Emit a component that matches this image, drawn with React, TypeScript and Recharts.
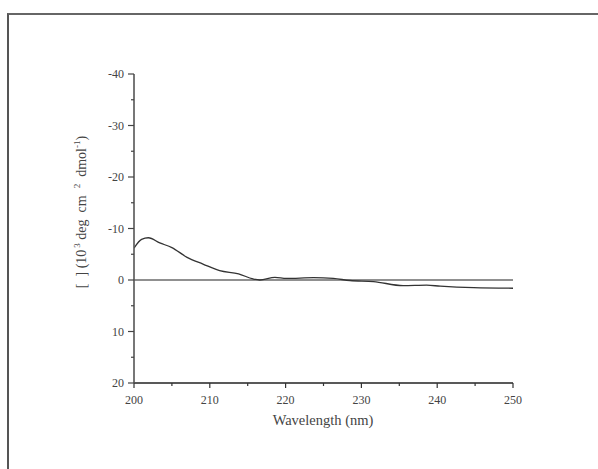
import React from 'react';
import { LineChart, Line, XAxis, YAxis, ReferenceLine, Label } from 'recharts';

const wavelengths = [200, 201, 201.9, 203.4, 205, 207, 209.1, 211.3, 213.8, 215.7, 216.6, 218.6, 220.1, 223.7, 226.3, 228.5, 231.6, 235.5, 238.6, 240.4, 244.8, 250];
const ellipticity = [-6.2, -7.9, -8.2, -7.2, -6.3, -4.4, -3.1, -1.8, -1.2, -0.2, 0, -0.5, -0.3, -0.45, -0.3, 0.1, 0.3, 1.1, 1.0, 1.2, 1.5, 1.6];
const xTicks = [200, 205, 210, 215, 220, 225, 230, 235, 240, 245, 250];
const yTicks = [-40, -35, -30, -25, -20, -15, -10, -5, 0, 5, 10, 15, 20];

const data = wavelengths.map((wl, i) => ({ wl, v: ellipticity[i] }));

const FONT = '"Liberation Serif", "DejaVu Serif", serif';

const XTick = (props: any) => {
  const { x, y, payload } = props;
  const major = payload.value % 10 === 0;
  return (
    <g>
      <line x1={x} y1={y} x2={x} y2={y + (major ? 5 : 3)} stroke="#333" strokeWidth={1.2} />
      {major && (
        <text x={x} y={y + 21} textAnchor="middle" fontFamily={FONT} fontSize={12} fill="#444">
          {payload.value}
        </text>
      )}
    </g>
  );
};

const YTick = (props: any) => {
  const { x, y, payload } = props;
  const major = payload.value % 10 === 0;
  return (
    <g>
      <line x1={x} y1={y} x2={x - (major ? 6 : 3)} y2={y} stroke="#444" strokeWidth={1.2} />
      {major && (
        <text x={x - 10} y={y + 4} textAnchor="end" fontFamily={FONT} fontSize={12} fill="#444">
          {payload.value}
        </text>
      )}
    </g>
  );
};

// y title: superscripts done with tspans, spacing kept wide like the original
const YTitle = () => (
  <text
    x={86}
    y={212}
    transform="rotate(-90 86 212)"
    textAnchor="middle"
    fontFamily={FONT}
    fontSize={14}
    fill="#444"
    xmlSpace="preserve"
  >
    [  ] (10
    <tspan fontSize={9} dx={2} dy={-6}>3</tspan>
    <tspan dy={6}> deg  cm  </tspan>
    <tspan fontSize={9} dy={-6}>2</tspan>
    <tspan dy={6}>  dmol</tspan>
    <tspan fontSize={9} dy={-6}>-1</tspan>
    <tspan dy={6}>)</tspan>
  </text>
);

const XTitle = () => (
  <text x={323} y={425} textAnchor="middle" fontFamily={FONT} fontSize={14.5} fill="#444">
    Wavelength (nm)
  </text>
);

export default function App() {
  return (
    <div style={{ position: 'absolute', left: 0, top: 0, width: 598, height: 469, overflow: 'hidden', background: '#fff' }}>
      <div
        style={{
          position: 'absolute',
          left: 7,
          top: 13,
          width: 620,
          height: 480,
          borderLeft: '2px solid #555',
          borderTop: '2px solid #666',
        }}
      />
      <div style={{ position: 'absolute', left: 0, top: 0 }}>
        <LineChart width={598} height={469} data={data} margin={{ top: 74, right: 85, left: 0, bottom: 0 }}>
          <XAxis
            dataKey="wl"
            type="number"
            domain={[200, 250]}
            ticks={xTicks}
            interval={0}
            height={86}
            tickSize={0}
            tickMargin={0}
            tick={<XTick />}
            axisLine={{ stroke: '#222', strokeWidth: 1.6 }}
            allowDataOverflow
          >
            <Label content={() => <XTitle />} />
          </XAxis>
          <YAxis
            type="number"
            domain={[-40, 20]}
            reversed
            ticks={yTicks}
            interval={0}
            width={134}
            tickSize={0}
            tickMargin={0}
            tick={<YTick />}
            axisLine={{ stroke: '#555', strokeWidth: 1.6 }}
            allowDataOverflow
          >
            <Label content={() => <YTitle />} />
          </YAxis>
          <ReferenceLine y={0} stroke="#222" strokeWidth={1.2} />
          <Line
            type="monotone"
            dataKey="v"
            stroke="#333"
            strokeWidth={1.3}
            dot={false}
            isAnimationActive={false}
          />
        </LineChart>
      </div>
    </div>
  );
}
